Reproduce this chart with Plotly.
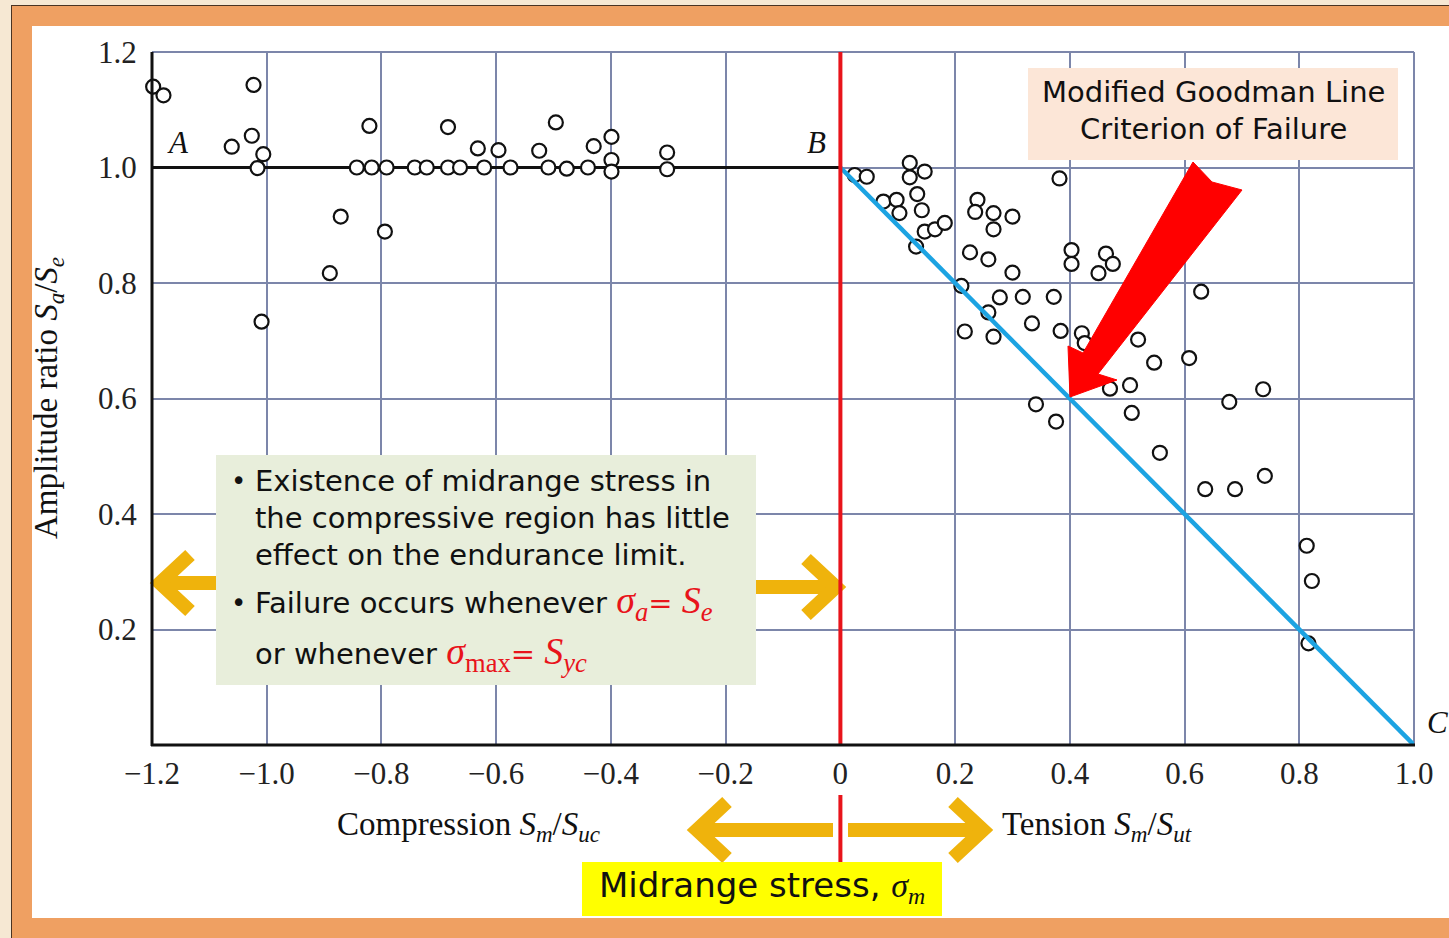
import plotly.graph_objects as go

# ---- data -------------------------------------------------------------
# compressive midrange region (Sm/Suc < 0)
comp_x = [-1.198, -1.180, -1.023, -1.061, -1.026, -1.006, -1.016, -0.821, -0.684,
          -0.632, -0.596, -0.525, -0.496, -0.430, -0.399, -0.399, -0.302,
          -0.843, -0.817, -0.791, -0.742, -0.721, -0.684, -0.663, -0.621, -0.575,
          -0.509, -0.477, -0.440, -0.399, -0.302,
          -0.871, -0.794, -0.890, -1.009]
comp_y = [1.140, 1.125, 1.143, 1.036, 1.055, 1.023, 0.999, 1.072, 1.070,
          1.033, 1.030, 1.029, 1.078, 1.037, 1.053, 1.013, 1.026,
          1.000, 1.000, 1.000, 1.000, 1.000, 1.000, 1.000, 1.000, 1.000,
          1.000, 0.998, 1.000, 0.993, 0.997,
          0.915, 0.889, 0.817, 0.733]

# tensile midrange region (Sm/Sut > 0)
tens_x = [0.025, 0.046, 0.121, 0.121, 0.147, 0.075, 0.098, 0.103, 0.134, 0.142,
          0.147, 0.165, 0.182, 0.132, 0.239, 0.235, 0.267, 0.267, 0.300, 0.382,
          0.226, 0.258, 0.300, 0.211, 0.278, 0.318, 0.372, 0.258, 0.217, 0.267,
          0.334, 0.384, 0.403, 0.403, 0.463, 0.475, 0.450, 0.421, 0.426, 0.519,
          0.470, 0.505, 0.629, 0.547, 0.608, 0.508, 0.341, 0.376, 0.557, 0.678,
          0.737, 0.636, 0.688, 0.740, 0.813, 0.822, 0.816]
tens_y = [0.987, 0.984, 1.008, 0.983, 0.993, 0.941, 0.944, 0.921, 0.954, 0.926,
          0.889, 0.893, 0.904, 0.863, 0.944, 0.923, 0.921, 0.893, 0.915, 0.981,
          0.853, 0.841, 0.818, 0.795, 0.775, 0.776, 0.776, 0.749, 0.716, 0.707,
          0.730, 0.717, 0.857, 0.833, 0.851, 0.833, 0.817, 0.713, 0.696, 0.702,
          0.617, 0.623, 0.785, 0.662, 0.670, 0.575, 0.590, 0.560, 0.506, 0.594,
          0.616, 0.443, 0.443, 0.466, 0.345, 0.284, 0.176]

# criterion lines
endurance_x = [-1.2, 0.0]
endurance_y = [1.0, 1.0]
goodman_x = [0.0, 1.0]
goodman_y = [1.0, 0.0]

x_ticks = [-1.2, -1.0, -0.8, -0.6, -0.4, -0.2, 0.0, 0.2, 0.4, 0.6, 0.8, 1.0]
x_tick_text = ["\u22121.2", "\u22121.0", "\u22120.8", "\u22120.6", "\u22120.4", "\u22120.2",
               "0", "0.2", "0.4", "0.6", "0.8", "1.0"]
y_ticks = [0.2, 0.4, 0.6, 0.8, 1.0, 1.2]
y_tick_text = ["0.2", "0.4", "0.6", "0.8", "1.0", "1.2"]

# ---- page geometry (pixels) ------------------------------------------
W, H = 1449, 938
PL, PR, PT, PB = 152, 1414, 52, 745


def px(x):
    return (x - PL) / (PR - PL)


def py(y):
    return (PB - y) / (PB - PT)


SERIF = "Liberation Serif"
SANS = "DejaVu Sans"
GRID = "#7c86aa"
GOLD = "#EFB30C"
RED = "#E8141B"

fig = go.Figure()

fig.add_trace(go.Scatter(x=endurance_x, y=endurance_y, mode="lines",
                         line=dict(color="#111111", width=3), hoverinfo="skip"))
marker = dict(symbol="circle", size=14, color="white",
              line=dict(color="#111111", width=2.2))
fig.add_trace(go.Scatter(x=comp_x, y=comp_y, mode="markers", marker=marker,
                         cliponaxis=False))
fig.add_trace(go.Scatter(x=tens_x, y=tens_y, mode="markers", marker=marker,
                         cliponaxis=False))
fig.add_trace(go.Scatter(x=goodman_x, y=goodman_y, mode="lines",
                         line=dict(color="#1CA3E2", width=4.5), hoverinfo="skip"))

shapes = []


def rect(x0, y0, x1, y1, color, layer="below"):
    shapes.append(dict(type="rect", xref="paper", yref="paper",
                       x0=px(x0), x1=px(x1), y0=py(y1), y1=py(y0),
                       fillcolor=color, line=dict(width=0), layer=layer))


def pline(x0, y0, x1, y1, color, width, layer="above"):
    shapes.append(dict(type="line", xref="paper", yref="paper",
                       x0=px(x0), x1=px(x1), y0=py(y0), y1=py(y1),
                       line=dict(color=color, width=width), layer=layer))


def ppath(points, color, width=0, fill=None, closed=False, layer="above"):
    d = "M " + " L ".join(f"{px(a):.5f},{py(b):.5f}" for a, b in points)
    if closed:
        d += " Z"
    shapes.append(dict(type="path", xref="paper", yref="paper", path=d,
                       fillcolor=fill if fill else "rgba(0,0,0,0)",
                       line=dict(color=color, width=width), layer=layer))


# page frame
rect(0, 0, W, H, "#F6E8D3")
rect(11, 5, W, H, "#4a3322")
rect(12, 6, W, H, "#EFA062")
rect(32, 26, W, 918, "#FFFFFF")

# plot frame: top/right in grid colour, left/bottom black
pline(PL, PT, PR, PT, GRID, 2, layer="below")
pline(PR, PT, PR, PB, GRID, 2, layer="below")


# gold arrows around the note box
def gold_arrow(x_tail, x_tip, y):
    d = 1 if x_tip > x_tail else -1
    pline(x_tail, y, x_tip - d * 6, y, GOLD, 14)
    ppath([(x_tip - d * 30, y - 28), (x_tip, y), (x_tip - d * 30, y + 28)], GOLD, 14)


gold_arrow(218, 160, 583)
gold_arrow(754, 836, 587)
gold_arrow(833, 697, 830)
gold_arrow(848, 983, 830)

# note boxes
rect(216, 455, 756, 685, "#E8EEDB", layer="above")
rect(1028, 68, 1398, 160, "#FCE6D7", layer="above")
rect(582, 862, 942, 916, "#FFFF00", layer="above")

# red midrange-zero line
pline(840.4, PT, 840.4, PB, RED, 4)
pline(840.4, 795, 840.4, 862, RED, 4)

# red pointer to the Goodman line
ppath([(1193, 162), (1212, 182), (1242, 190), (1098, 374), (1117, 380),
       (1070, 397), (1068, 346), (1083, 353)], "#FF0000", 1, fill="#FF0000", closed=True)

# left/bottom axes
pline(PL, PT, PL, PB + 1, "#111111", 3)
pline(PL - 1, PB, PR + 1, PB, "#111111", 3)

annotations = []


def note(x, y, text, size, family=SANS, color="#111111", xanchor="center",
         yanchor="middle", angle=0):
    annotations.append(dict(xref="paper", yref="paper", x=px(x), y=py(y), text=text,
                            showarrow=False, xanchor=xanchor, yanchor=yanchor,
                            textangle=angle,
                            font=dict(family=family, size=size, color=color)))


def red_math(sym, sub, sub_italic=True):
    s = f"<i>{sub}</i>" if sub_italic else sub
    return (f'<span style="color:{RED};font-family:{SERIF};font-size:38px">'
            f'<i>{sym}</i><sub>{s}</sub></span>')


eq = f'<span style="color:{RED}">= </span>'

# note box text
note(229, 481, "\u2022", 26, xanchor="left")
note(253, 481, "Existence of midrange stress in", 29, xanchor="left")
note(253, 518, "the compressive region has little", 29, xanchor="left")
note(253, 555, "effect on the endurance limit.", 29, xanchor="left")
note(229, 603, "\u2022", 26, xanchor="left")
note(253, 603, "Failure occurs whenever " + red_math("\u03c3", "a") + eq
     + red_math("S", "e"), 29, xanchor="left")
note(253, 654, "or whenever " + red_math("\u03c3", "max", sub_italic=False) + eq
     + red_math("S", "yc"), 29, xanchor="left")

note(1213, 92, "Modified Goodman Line", 29)
note(1213, 129, "Criterion of Failure", 29)

note(762, 887, 'Midrange stress, <span style="font-family:Liberation Serif">'
     '<i>\u03c3<sub>m</sub></i></span>', 34)

# axis captions
note(48, 398, "Amplitude ratio <i>S<sub>a</sub></i>/<i>S<sub>e</sub></i>", 33,
     family=SERIF, angle=-90)
note(468, 826, "Compression <i>S<sub>m</sub></i>/<i>S<sub>uc</sub></i>", 33, family=SERIF)
note(1097, 826, "Tension <i>S<sub>m</sub></i>/<i>S<sub>ut</sub></i>", 33, family=SERIF)

# point labels
note(178, 142, "<i>A</i>", 31, family=SERIF)
note(816, 142, "<i>B</i>", 31, family=SERIF)
note(1438, 722, "<i>C</i>", 31, family=SERIF)

fig.update_layout(
    width=W, height=H,
    margin=dict(l=PL, r=W - PR, t=PT, b=H - PB, pad=0),
    paper_bgcolor="#F6E8D3", plot_bgcolor="white",
    showlegend=False,
    shapes=shapes, annotations=annotations,
    xaxis=dict(range=[-1.2, 1.0], tickvals=x_ticks, ticktext=x_tick_text,
               showgrid=True, gridcolor=GRID, gridwidth=1.6, zeroline=False,
               showline=False, ticks="outside", ticklen=1, tickcolor="rgba(0,0,0,0)",
               tickfont=dict(family=SERIF, size=31, color="#222222"), fixedrange=True),
    yaxis=dict(range=[0, 1.2], tickvals=y_ticks, ticktext=y_tick_text,
               showgrid=True, gridcolor=GRID, gridwidth=1.6, zeroline=False,
               showline=False, ticks="outside", ticklen=8, tickcolor="rgba(0,0,0,0)",
               tickfont=dict(family=SERIF, size=31, color="#222222"), fixedrange=True),
)

fig.write_html("out.html")
